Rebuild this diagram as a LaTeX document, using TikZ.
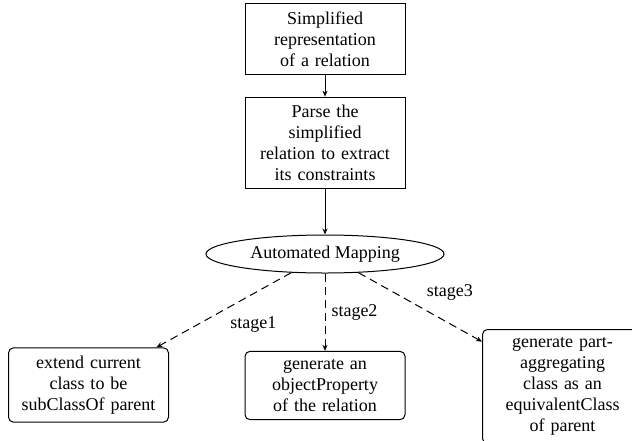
\documentclass[tikz,border=0pt]{standalone}
\usepackage{fontspec}
\setmainfont{Liberation Serif}
\usetikzlibrary{shapes.geometric,arrows.meta}
\begin{document}
\begin{tikzpicture}[x=0.5pt,y=-0.5pt,line width=0.5pt,
  every node/.style={font=\fontsize{9}{10.5}\selectfont},
  flowbox/.style={draw, rectangle, align=center, text width=72pt, inner sep=4pt},
  stagebox/.style={flowbox, rounded corners=2.5pt},
  mapnode/.style={draw, ellipse, minimum width=119pt, minimum height=19pt, inner sep=0pt},
  flow/.style={-{Stealth[length=3pt,width=2.5pt]}},
  stageflow/.style={flow, dash pattern=on 4pt off 2.5pt},
  stagelabel/.style={inner sep=3pt}]
  \useasboundingbox (0,0) rectangle (632,440);

  % pipeline
  \node[flowbox] (simp) at (325,39) {Simplified\\representation\\of a relation};
  \node[flowbox] (parse) at (325,143) {Parse the\\simplified\\relation to extract\\its constraints};
  \node[mapnode] (map) at (325,254) {Automated Mapping};

  % mapping stages
  \node[stagebox] (sub) at (88.5,385) {extend current\\class to be\\subClassOf parent};
  \node[stagebox] (obj) at (325,385.5) {generate an\\objectProperty\\of the relation};
  \node[stagebox, anchor=north west] (equiv) at (482,329) {generate part-\\aggregating\\class as an\\equivalentClass\\of parent};

  \draw[flow] (simp) -- (parse);
  \draw[flow] (parse) -- (map);
  \draw[stageflow] (map) -- node[stagelabel, midway, below right] (l1) {stage1} (sub);
  \draw[stageflow] (map) -- node[stagelabel, midway, right] (l2) {stage2} (obj);
  \draw[stageflow] (map) -- node[stagelabel, midway, above right] (l3) {stage3} (equiv);
\end{tikzpicture}
\end{document}
